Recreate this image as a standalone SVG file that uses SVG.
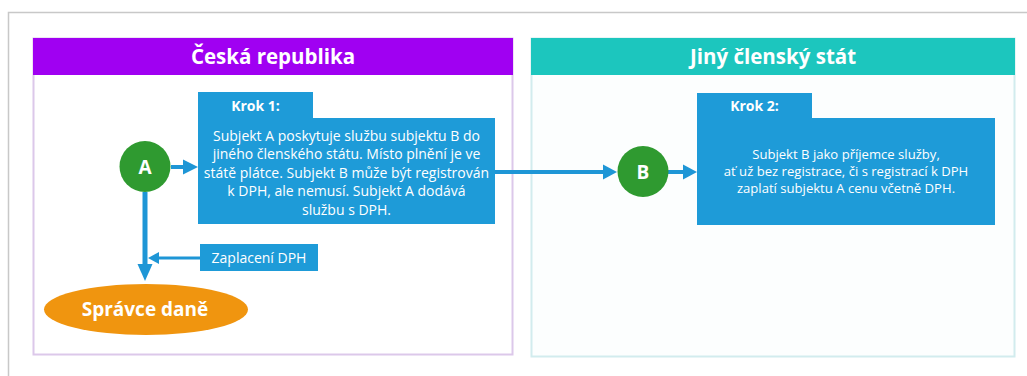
<svg xmlns="http://www.w3.org/2000/svg" width="1027" height="376" viewBox="0 0 1027 376">
<style>
.hdr{font-family:"Open Sans","Noto Sans",sans-serif;font-weight:bold;font-size:20.5px;fill:#fff;text-anchor:middle}
.box{fill:#1E9BD8}
.txt{font-family:"Open Sans","Noto Sans",sans-serif;font-size:14px;fill:#fff;text-anchor:middle}
.txt2{font-family:"Open Sans","Noto Sans",sans-serif;font-size:13.1px;fill:#fff;text-anchor:middle}
.krok{font-family:"Open Sans","Noto Sans",sans-serif;font-weight:bold;font-size:14px;fill:#fff;text-anchor:middle}
.circ{fill:#2F9A30}
.let{font-family:"Open Sans","Noto Sans",sans-serif;font-weight:bold;font-size:19px;fill:#fff;text-anchor:middle}
.ln{stroke:#1E96D6;fill:none}
.head{fill:#1E96D6}
</style>
<rect width="1027" height="376" fill="#fff"/>
<rect x="8.5" y="12.5" width="1030" height="380" fill="none" stroke="#C8C8C8" stroke-width="1.5"/>
<g id="panel-cz">
<rect x="33.5" y="38.5" width="479" height="316" fill="#fff" stroke="#DCC8EA" stroke-width="2"/>
<rect x="33" y="38" width="480" height="37" fill="#A000F2"/>
<text class="hdr" x="273" y="63.5">Česká republika</text>
</g>
<g id="panel-other">
<rect x="531.5" y="38.5" width="483" height="318" fill="#FCFEFE" stroke="#D2ECEE" stroke-width="2"/>
<rect x="531" y="38" width="484" height="37" fill="#1CC6BE"/>
<text class="hdr" x="773" y="63.5">Jiný členský stát</text>
</g>
<g id="connectors">
<line class="ln" x1="171" y1="167" x2="186" y2="167" stroke-width="4"/>
<polygon class="head" points="198,167 183,159.5 183,174.5"/>
<line class="ln" x1="495" y1="172" x2="606" y2="172" stroke-width="4"/>
<polygon class="head" points="617,172 603,164.5 603,179.5"/>
<line class="ln" x1="668" y1="172" x2="686" y2="172" stroke-width="4"/>
<polygon class="head" points="697,172 683,164.5 683,179.5"/>
<line class="ln" x1="145" y1="192" x2="145" y2="267" stroke-width="5"/>
<polygon class="head" points="145,281 137.5,264 152.5,264"/>
<line class="ln" x1="200" y1="258" x2="158" y2="258" stroke-width="3"/>
<polygon class="head" points="148,258 159,252 159,264"/>
</g>
<g id="krok1">
<path class="box" d="M198 92 H313 V118 H495 V224 H198 Z"/>
<text class="krok" x="255.5" y="111">Krok 1:</text>
<text class="txt" x="346.5" y="140.5">Subjekt A poskytuje službu subjektu B do</text>
<text class="txt" x="346.5" y="159">jiného členského státu. Místo plnění je ve</text>
<text class="txt" x="346.5" y="177.5">státě plátce. Subjekt B může být registrován</text>
<text class="txt" x="346.5" y="196">k DPH, ale nemusí. Subjekt A dodává</text>
<text class="txt" x="346.5" y="214.5">službu s DPH.</text>
</g>
<g id="krok2">
<path class="box" d="M697 93 H812 V118 H995 V225 H697 Z"/>
<text class="krok" x="754.5" y="111">Krok 2:</text>
<text class="txt2" x="846" y="159">Subjekt B jako příjemce služby,</text>
<text class="txt2" x="846" y="176">ať už bez registrace, či s registrací k DPH</text>
<text class="txt2" x="846" y="193">zaplatí subjektu A cenu včetně DPH.</text>
</g>
<g id="nodeA">
<circle class="circ" cx="145" cy="166.5" r="25.5"/>
<text class="let" x="145" y="173.5">A</text>
</g>
<g id="nodeB">
<circle class="circ" cx="643" cy="171.5" r="25.5"/>
<text class="let" x="643" y="178.5">B</text>
</g>
<g id="zaplaceni">
<rect class="box" x="200" y="244" width="118" height="27"/>
<text class="txt" x="259" y="262.5">Zaplacení DPH</text>
</g>
<g id="spravce">
<ellipse cx="146" cy="309.5" rx="102" ry="25.5" fill="#F0950F"/>
<text x="145" y="315.5" font-family="Open Sans, Noto Sans, sans-serif" font-weight="bold" font-size="19" fill="#fff" text-anchor="middle">Správce daně</text>
</g>
</svg>
